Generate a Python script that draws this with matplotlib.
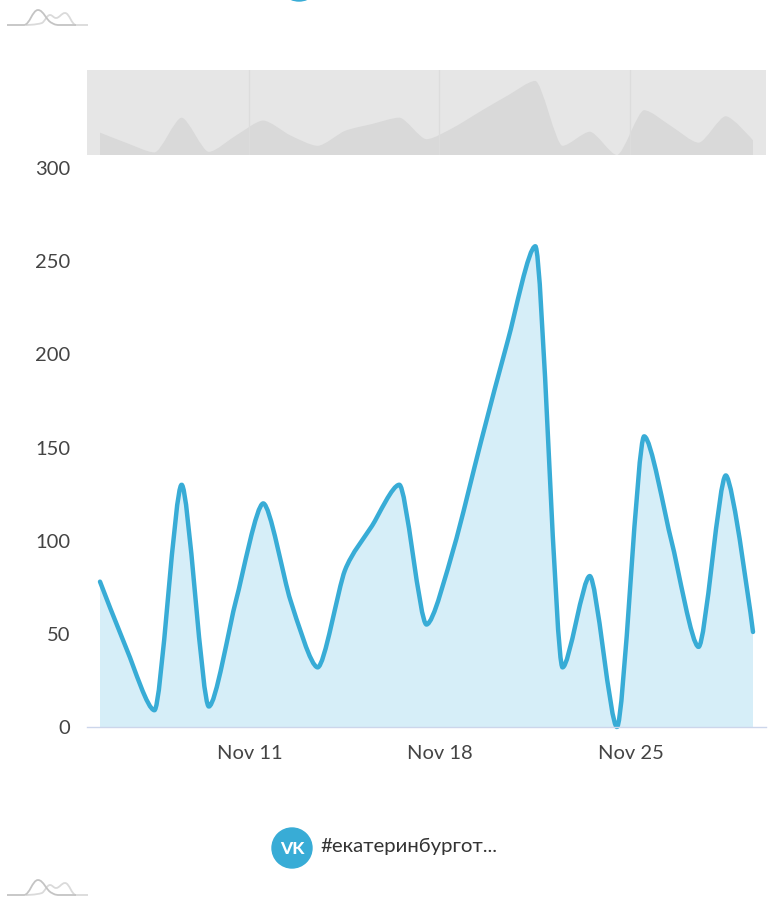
import matplotlib as mpl
mpl.use("Agg")
import matplotlib.dates as mdates
import matplotlib.pyplot as plt
import numpy as np
import pandas as pd
from matplotlib.patches import Circle, PathPatch
from matplotlib.path import Path

values = [78, 41, 9, 130, 11, 68, 120, 68, 32, 84, 108, 130, 55, 96, 153, 208,
          258, 32, 81, 0, 156, 100, 43, 135, 51]
dates = pd.date_range("2018-11-05 12:00", periods=len(values), freq="D")
tick_dates = pd.to_datetime(["2018-11-11", "2018-11-18", "2018-11-25"])
tick_labels = ["Nov 11", "Nov 18", "Nov 25"]
y_ticks = [0, 50, 100, 150, 200, 250, 300]
hashtag = "#екатеринбургот..."

# little grey mountain logo, pixel positions inside the logo box
logo_dark_x = [7, 24, 38, 52, 60, 76]
logo_dark_y = [25, 25, 10, 23, 25, 25]
logo_light_x = [26, 42, 50, 56, 65, 76, 88]
logo_light_y = [25, 23, 15, 18, 13, 25, 25]

W, H = 781, 899
BLUE = "#38acd6"
FILL = "#d6eef8"


def spline_path(xs, ys, smooth=3.0):
    # handles are 1/(smooth+1) of the way to the neighbour, flat at the extremes
    xs = np.asarray(xs, dtype=float)
    ys = np.asarray(ys, dtype=float)
    n = len(xs)
    d = smooth + 1
    left, right = [None] * n, [None] * n
    for i in range(1, n - 1):
        lcx = (smooth * xs[i] + xs[i - 1]) / d
        lcy = (smooth * ys[i] + ys[i - 1]) / d
        rcx = (smooth * xs[i] + xs[i + 1]) / d
        rcy = (smooth * ys[i] + ys[i + 1]) / d
        corr = (rcy - lcy) * (rcx - xs[i]) / (rcx - lcx) + ys[i] - rcy
        lcy += corr
        rcy += corr
        if lcy > ys[i - 1] and lcy > ys[i]:
            lcy = max(ys[i - 1], ys[i])
            rcy = 2 * ys[i] - lcy
        elif lcy < ys[i - 1] and lcy < ys[i]:
            lcy = min(ys[i - 1], ys[i])
            rcy = 2 * ys[i] - lcy
        if rcy > ys[i + 1] and rcy > ys[i]:
            rcy = max(ys[i + 1], ys[i])
            lcy = 2 * ys[i] - rcy
        elif rcy < ys[i + 1] and rcy < ys[i]:
            rcy = min(ys[i + 1], ys[i])
            lcy = 2 * ys[i] - rcy
        left[i] = (lcx, lcy)
        right[i] = (rcx, rcy)
    verts = [(xs[0], ys[0])]
    codes = [Path.MOVETO]
    for i in range(1, n):
        verts += [right[i - 1] or (xs[i - 1], ys[i - 1]), left[i] or (xs[i], ys[i]), (xs[i], ys[i])]
        codes += [Path.CURVE4] * 3
    return verts, codes


def area_path(xs, ys):
    verts, codes = spline_path(xs, ys)
    verts = verts + [(xs[-1], 0), (xs[0], 0), (xs[0], ys[0])]
    codes = codes + [Path.LINETO, Path.LINETO, Path.CLOSEPOLY]
    return Path(verts, codes)


def px_axes(left, top, right, bottom):
    return fig.add_axes([left / W, 1 - bottom / H, (right - left) / W, (bottom - top) / H])


plt.rcParams["font.family"] = ["Lato", "Open Sans", "DejaVu Sans"]
fig = plt.figure(figsize=(W / 100, H / 100), dpi=100, facecolor="white")

x_num = mdates.date2num(dates)
xlim = (x_num[0] - 13 / 27.2, x_num[-1] + 13 / 27.2)

# main chart
ax = px_axes(87, 168, 766, 727)
ax.add_patch(PathPatch(area_path(x_num, values), facecolor=FILL, edgecolor="none"))
verts, codes = spline_path(x_num, values)
ax.add_patch(PathPatch(Path(verts, codes), facecolor="none", edgecolor=BLUE, lw=3.2,
                       capstyle="round", joinstyle="round", clip_on=False))
ax.set_xlim(xlim)
ax.set_ylim(0, 300)
ax.set_yticks(y_ticks)
ax.set_xticks(mdates.date2num(tick_dates))
ax.set_xticklabels(tick_labels)
ax.tick_params(axis="both", length=0, labelsize=14.5, labelcolor="#444444")
ax.tick_params(axis="x", pad=13)
ax.tick_params(axis="y", pad=12)
for side in ["top", "right", "left"]:
    ax.spines[side].set_visible(False)
ax.spines["bottom"].set_color("#ccd6eb")
ax.spines["bottom"].set_linewidth(1)
ax.patch.set_alpha(0)

# navigator strip above the chart
nav = px_axes(87, 70, 766, 155)
nav.set_facecolor("#e6e6e6")
nav.add_patch(PathPatch(area_path(x_num, values), facecolor="#d9d9d9", edgecolor="none"))
nav.set_xlim(xlim)
nav.set_ylim(0, 296)
for t in mdates.date2num(tick_dates):
    nav.axvline(t - 1 / 27.2, color="#dcdcdc", lw=1)
nav.set_xticks([])
nav.set_yticks([])
for spine in nav.spines.values():
    spine.set_visible(False)

# decorations in pixel coordinates
over = fig.add_axes([0, 0, 1, 1])
over.set_xlim(0, W)
over.set_ylim(H, 0)
over.axis("off")
over.patch.set_alpha(0)

over.add_patch(Circle((299, -20), 21, color=BLUE))
over.add_patch(Circle((292, 848), 20, color=BLUE))
over.text(292, 848.5, "VK", color="white", fontsize=12.5, fontweight="black", ha="center", va="center")
over.text(320, 846, hashtag, color="#333333", fontsize=14.7, ha="left", va="center")

for oy in [0, 870]:
    for lx, ly, col in [(logo_light_x, logo_light_y, "#dadada"), (logo_dark_x, logo_dark_y, "#c4c4c4")]:
        v, c = spline_path(lx, np.array(ly) + oy, smooth=1.5)
        over.add_patch(PathPatch(Path(v, c), facecolor="none", edgecolor=col, lw=1.3))

fig.savefig("out.png", dpi=100)
